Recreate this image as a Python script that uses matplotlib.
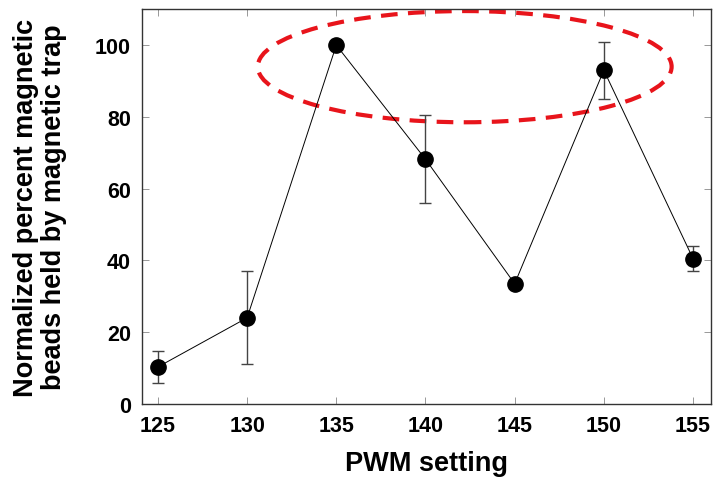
import numpy as np
import matplotlib.pyplot as plt
from matplotlib.patches import Ellipse

# PWM setting vs normalized bead retention
pwm = [125, 130, 135, 140, 145, 150, 155]
percent_held = [10.3, 24, 100, 68.2, 33.5, 93, 40.5]
err = [4.5, 13, 1.0, 12.2, 0.0, 8, 3.5]

plt.rcParams['font.family'] = ['Liberation Sans', 'DejaVu Sans']

fig = plt.figure(figsize=(7.13, 4.89), dpi=100)
ax = fig.add_axes([0.199, 0.172, 0.798, 0.807])

ax.errorbar(pwm, percent_held, yerr=err, fmt='none', ecolor='#444444',
            elinewidth=1, capsize=4, capthick=1)
ax.plot(pwm, percent_held, color='black', linewidth=0.7, marker='o',
        markersize=11, markerfacecolor='black', markeredgecolor='black')

# highlight the two peaks
ell = Ellipse((142.2, 94), 23.2, 31, fill=False, edgecolor='#e8141b',
              linewidth=3, linestyle=(0, (4, 2.5)))
ax.add_patch(ell)

ax.set_xlim(124.1, 156)
ax.set_ylim(0, 110)
ax.set_xticks(pwm)
ax.set_yticks([0, 20, 40, 60, 80, 100])
ax.tick_params(direction='in', top=True, right=True, length=5, width=0.6,
               color='#888888', labelsize=15.5, pad=8)
for lab in ax.get_xticklabels() + ax.get_yticklabels():
    lab.set_fontweight('bold')
for sp in ax.spines.values():
    sp.set_color('#333333')
    sp.set_linewidth(1)

ax.set_xlabel('PWM setting', fontsize=19.5, fontweight='bold', labelpad=10)
ax.set_ylabel('Normalized percent magnetic\nbeads held by magnetic trap',
              fontsize=19.5, fontweight='bold', labelpad=20, linespacing=1.1)

fig.savefig('out.png', dpi=100)
